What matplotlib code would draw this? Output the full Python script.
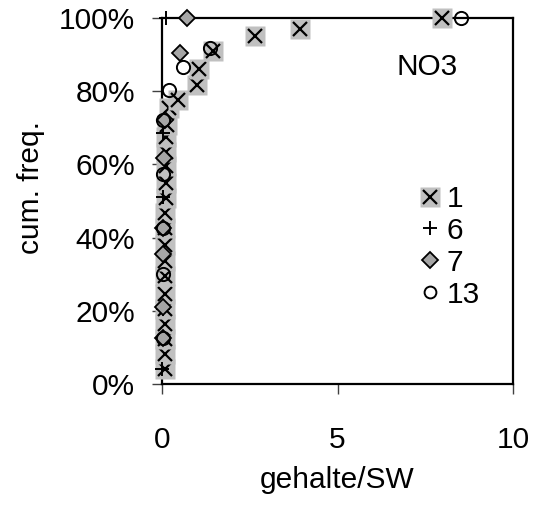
import matplotlib
matplotlib.use("Agg")
import matplotlib.pyplot as plt
from matplotlib.lines import Line2D
from matplotlib.legend_handler import HandlerTuple

plt.rcParams['font.family'] = ['Liberation Sans', 'DejaVu Sans']

# Series 1 (x with grey box)
s1_x = [0.08, 0.08, 0.08, 0.08, 0.08, 0.08, 0.08, 0.08, 0.08, 0.08, 0.08, 0.1, 0.1,
        0.1, 0.12, 0.12, 0.14, 0.2, 0.47, 0.99, 1.04, 1.45, 2.64, 3.92, 7.98]
s1_y = [4.2, 8.3, 12.4, 16.5, 20.6, 24.7, 29.5, 33.5, 37.9, 42.5, 46.6, 50.8, 54.8,
        59.5, 63.5, 67.6, 70.8, 75.5, 77.5, 81.6, 86.2, 91.0, 95.0, 97.0, 100.0]
# Series 6 (+)
s6_x = [0.01, 0.02, 0.02, 0.03, 0.1]
s6_y = [4.2, 20.5, 51.0, 68.5, 100.0]
# Series 7 (grey diamond)
s7_x = [0.02, 0.02, 0.03, 0.03, 0.05, 0.08, 0.52, 0.7]
s7_y = [12.5, 21.0, 35.5, 42.5, 61.7, 72.0, 90.4, 100.0]
# Series 13 (open circle)
s13_x = [0.02, 0.03, 0.03, 0.03, 0.02, 0.19, 0.61, 1.37, 8.52]
s13_y = [12.5, 30.0, 42.5, 57.5, 72.0, 80.2, 86.7, 91.8, 100.0]

series_labels = ["1", "6", "7", "13"]
y_ticks = [0, 20, 40, 60, 80, 100]
y_ticklabels = ["0%", "20%", "40%", "60%", "80%", "100%"]
x_ticks = [0, 5, 10]
x_ticklabels = ["0", "5", "10"]

FS = 21.5
fig = plt.figure(figsize=(5.4, 5.07), dpi=100)
ax = fig.add_axes([162/540, 1-384/507, (513-162)/540, (384-18)/507])

SQ = 14
z = 3
for xv, yv in zip(s1_x, s1_y):
    ax.plot([xv], [yv], marker='s', ms=SQ, mfc='#c0c0c0', mec='none', ls='none',
            zorder=z, clip_on=False)
    ax.plot([xv], [yv], marker='x', ms=10, mew=1.6, color='black', ls='none',
            zorder=z + 0.5, clip_on=False)
    z += 1
ax.plot(s6_x, s6_y, marker='+', ms=10, mew=1.4, color='black', ls='none',
        zorder=z, clip_on=False)
ax.plot(s7_x, s7_y, marker='D', ms=8, mfc='#a6a6a6', mec='black', mew=1.3,
        ls='none', zorder=z + 1, clip_on=False)
ax.plot(s13_x, s13_y, marker='o', ms=9.5, mfc='none', mec='black', mew=1.4,
        ls='none', zorder=z + 2, clip_on=False)

ax.set_xlim(0, 10)
ax.set_ylim(0, 100)
ax.set_yticks(y_ticks)
ax.set_yticklabels(y_ticklabels)
ax.set_xticks(x_ticks)
ax.set_xticklabels(x_ticklabels)
ax.tick_params(axis='both', direction='out', length=7.5, width=1, colors='#404040',
               labelcolor='black', labelsize=FS)
ax.tick_params(axis='y', pad=12)
ax.tick_params(axis='x', pad=23)
for sp in ax.spines.values():
    sp.set_linewidth(1.6)
    sp.set_color('black')

ax.set_xlabel("gehalte/SW", fontsize=FS, labelpad=8.5)
ax.set_ylabel("cum. freq.", fontsize=FS, labelpad=9.5)
ax.yaxis.label.set_y(0.537)

ax.text(7.56, 86.7, "NO3", fontsize=FS, ha='center', va='center')

h1 = (Line2D([], [], marker='s', ms=SQ, mfc='#c0c0c0', mec='none', ls='none'),
      Line2D([], [], marker='x', ms=10, mew=1.6, color='black', ls='none'))
h6 = Line2D([], [], marker='+', ms=10, mew=1.4, color='black', ls='none')
h7 = Line2D([], [], marker='D', ms=8, mfc='#a6a6a6', mec='black', mew=1.3, ls='none')
h13 = Line2D([], [], marker='o', ms=8.5, mfc='none', mec='black', mew=1.4, ls='none')
leg = ax.legend([h1, h6, h7, h13], series_labels,
                handler_map={tuple: HandlerTuple(ndivide=1, pad=0)},
                loc='upper left', bbox_to_anchor=(415/540, 1-185/507),
                bbox_transform=fig.transFigure,
                frameon=False, fontsize=FS, handlelength=1.0, handletextpad=0.05,
                labelspacing=0.13, borderpad=0, borderaxespad=0)

fig.savefig("out.png", dpi=100)
